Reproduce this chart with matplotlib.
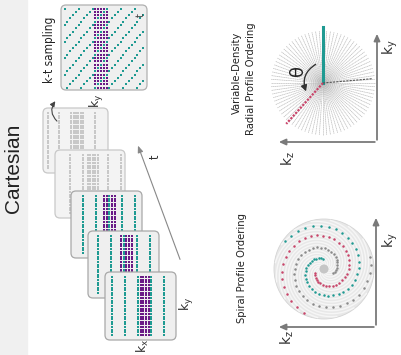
import numpy as np
import matplotlib
matplotlib.use("Agg")
import matplotlib.pyplot as plt
from matplotlib.patches import FancyBboxPatch, FancyArrowPatch, Circle, Rectangle

TEAL = "#1f9a92"
PURPLE = "#6a1b86"
RED = "#c8456a"
GRAY = "#7a7a7a"
NARROW = dict(family="DejaVu Sans", stretch="condensed")

# k-t sampling grid (columns along ky, rows along t)
kt_ncols = 29
kt_nrows = 25
kt_band = [11, 12, 13, 14, 15]
kt_step = 5

# stack of time frames, back to front
frame_left = [43, 55, 71, 88, 105]
frame_top = [108, 150, 191, 231, 272]
frame_w = [65, 70, 71, 71, 71]
frame_h = [65, 68, 67, 67, 68]
frame_shift = [0, 4, 3, 2, 1]
frame_faded = [True, True, False, False, False]
frame_ncols = 25
frame_nrows = 23
frame_band = [11, 12, 13, 14, 15]

# radial ordering
n_spokes = 88
radial_lines = [(90, 56, TEAL, "-", 2.2), (228, 55, RED, (0, (1, 0.6)), 1.6),
                (5, 50, "#555555", (0, (2, 1)), 0.8)]

# spiral ordering: colour, start angle (deg), sweep (deg)
spiral_arms = [(TEAL, 95, 410), (RED, 205, 400), ("#8a8a8a", 335, 400)]
n_bg_arms = 16

fig = plt.figure(figsize=(4.01, 3.55), dpi=100)
ax = fig.add_axes([0, 0, 1, 1])
ax.set_xlim(0, 401)
ax.set_ylim(355, 0)
ax.axis("off")

# side band with title
ax.add_patch(Rectangle((0, 0), 27, 355, color="#f0f0f0", zorder=0))
ax.text(14, 168, "Cartesian", rotation=90, ha="center", va="center",
        fontsize=15, color="#222222", family=["Liberation Sans", "DejaVu Sans"])


def rbox(x, y, w, h, fc, ec, z):
    ax.add_patch(FancyBboxPatch((x, y), w, h, boxstyle="round,pad=0,rounding_size=5",
                                fc=fc, ec=ec, lw=0.9, zorder=z))


def dots(xs, ys, c, z, s=1.8, marker="s"):
    ax.scatter(xs, ys, s=s, c=c, marker=marker, linewidths=0, zorder=z)


# k-t sampling panel
rbox(61, 5, 86, 85, "#efefef", "#b0b0b0", 1)
cx = 64.5 + 2.8 * np.arange(kt_ncols)
ry = 8.5 + 3.3 * np.arange(kt_nrows)
for r, y in enumerate(ry):
    for c, x in enumerate(cx):
        if (c + r) % kt_step == 0:
            dots([x], [y], TEAL, 3, 3.4)
        elif c in kt_band:
            dots([x], [y], PURPLE, 2, 3.0)
ax.text(141, 15, "t", rotation=90, ha="center", va="center", fontsize=8,
        color="#444444", **NARROW)
ax.text(49, 50, "k-t sampling", rotation=90, ha="center", va="center",
        fontsize=8.5, color="#222222", **NARROW)
ax.text(97, 101, r"$\mathregular{k_y}$", rotation=90, ha="center", va="center",
        fontsize=9, color="#333333")

# time frames
for i in range(len(frame_left)):
    x0, y0, w, h = frame_left[i], frame_top[i], frame_w[i], frame_h[i]
    z = 4 + 2 * i
    if frame_faded[i]:
        rbox(x0, y0, w, h, "#f3f3f3", "#c8c8c8", z)
    else:
        rbox(x0, y0, w, h, "#efefef", "#a8a8a8", z)
    px = w / (frame_ncols + 2.3)
    xs = x0 + 4.5 + px * np.arange(frame_ncols)
    ys = y0 + 5 + (h - 10) / (frame_nrows - 1) * np.arange(frame_nrows)
    for c, x in enumerate(xs):
        sampled = (c - frame_shift[i]) % kt_step == 0
        if frame_faded[i]:
            if sampled or c in frame_band:
                dots([x] * len(ys), ys, "#c8c8c8", z + 1, 1.5)
        elif sampled:
            dots([x] * len(ys), ys, TEAL, z + 1, 2.6)
        elif c in frame_band:
            dots([x] * len(ys), ys, PURPLE, z + 1, 2.2)

ax.add_patch(FancyArrowPatch((59, 123), (57, 99), connectionstyle="arc3,rad=-0.5",
                             arrowstyle="-|>,head_length=3,head_width=1.5",
                             color="#444444", lw=0.8, zorder=20))
ax.add_patch(FancyArrowPatch((181, 262), (137, 143), arrowstyle="-|>,head_length=4,head_width=1.6",
                             color="#888888", lw=0.8, zorder=1))
ax.text(155, 157, "t", rotation=90, ha="center", va="center", fontsize=9,
        color="#333333", **NARROW)
ax.text(143, 346, r"$\mathregular{k_x}$", rotation=90, ha="center", va="center",
        fontsize=9, color="#333333")
ax.text(187, 304, r"$\mathregular{k_y}$", rotation=90, ha="center", va="center",
        fontsize=9, color="#333333")


def axes_arrows(ox, oy, top, left, ky_xy, kz_xy):
    kw = dict(arrowstyle="-|>,head_length=4,head_width=1.8", color=GRAY, lw=1.3, zorder=3)
    ax.add_patch(FancyArrowPatch((ox, oy + 0.6), (ox, top), **kw))
    ax.add_patch(FancyArrowPatch((ox + 0.6, oy), (left, oy), **kw))
    ax.text(*ky_xy, r"$\mathregular{k_y}$", rotation=90, ha="center", va="center",
            fontsize=10, color="#333333")
    ax.text(*kz_xy, r"$\mathregular{k_z}$", rotation=90, ha="center", va="center",
            fontsize=10, color="#333333")


# radial profile ordering
rcx, rcy = 323, 83
for a in np.linspace(0, 360, n_spokes, endpoint=False):
    t = np.radians(a)
    ax.plot([rcx, rcx + 52 * np.cos(t)], [rcy, rcy - 52 * np.sin(t)],
            color="#bdbdbd", lw=0.5, ls=(0, (2, 0.6)), zorder=1)
for ang, length, col, ls, lw in radial_lines:
    t = np.radians(ang)
    ax.plot([rcx, rcx + length * np.cos(t)], [rcy, rcy - length * np.sin(t)],
            color=col, ls=ls, lw=lw, zorder=2)
ax.add_patch(FancyArrowPatch((318, 63), (307, 94), connectionstyle="arc3,rad=0.45",
                             arrowstyle="-|>,head_length=3.5,head_width=1.8",
                             color="#333333", lw=1.0, zorder=3))
ax.text(299, 72, r"$\mathregular{\theta}$", rotation=90, ha="center", va="center",
        fontsize=13, color="#222222")
axes_arrows(377, 142, 31, 276, (390, 47), (288, 159))
ax.text(237, 73, "Variable-Density", rotation=90, ha="center", va="center",
        fontsize=8, color="#222222", **NARROW)
ax.text(251, 79, "Radial Profile Ordering", rotation=90, ha="center", va="center",
        fontsize=8, color="#222222", **NARROW)

# spiral profile ordering
scx, scy = 324, 269
ax.add_patch(Circle((scx, scy), 50, fc="#e8e8e8", ec="#d4d4d4", lw=0.6, zorder=1))
for k in range(n_bg_arms):
    a = np.radians(np.linspace(0, 330, 120) + k * 360 / n_bg_arms)
    r = np.linspace(5, 49, 120)
    ax.plot(scx + r * np.cos(a), scy - r * np.sin(a), color="#f6f6f6", lw=1.0, zorder=2)
ax.add_patch(Circle((scx, scy), 4.5, fc="#c6c6c6", ec="none", zorder=3))
for col, start, sweep in spiral_arms:
    n = int(sweep / 10)
    a = np.radians(start + np.linspace(0, sweep, n))
    r = np.linspace(10, 48, n)
    dots(scx + r * np.cos(a), scy - r * np.sin(a), col, 4, 3.2, "o")
axes_arrows(376, 327, 215, 276, (390, 240), (287, 338))
ax.text(242, 268, "Spiral Profile Ordering", rotation=90, ha="center", va="center",
        fontsize=8, color="#222222", **NARROW)

fig.savefig("out.png", dpi=100)
